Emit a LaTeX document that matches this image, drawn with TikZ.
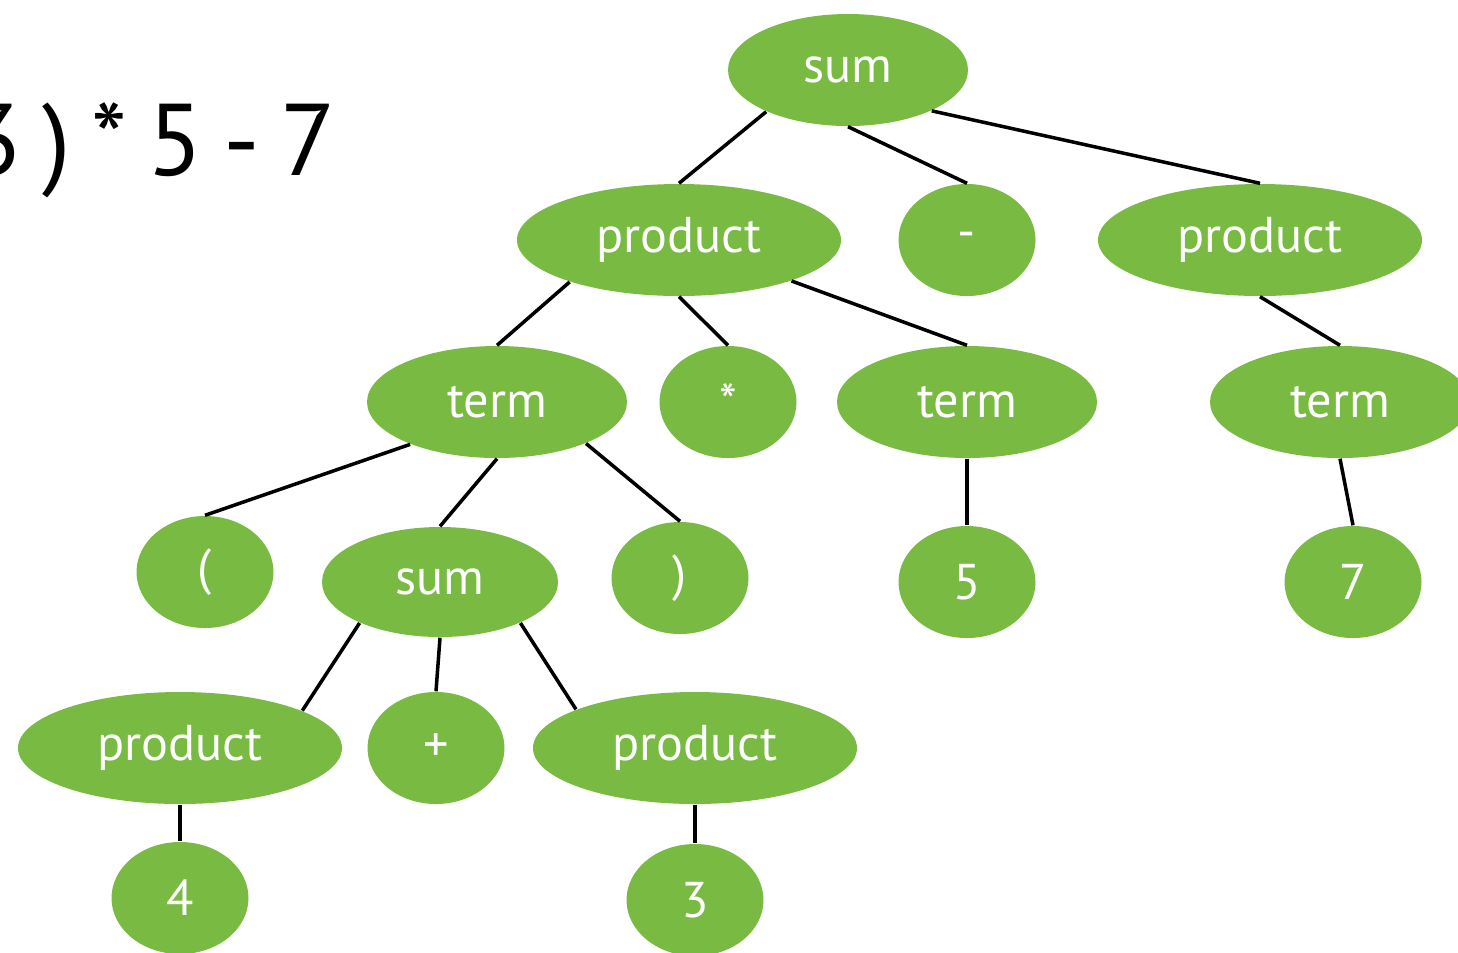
\documentclass[tikz,border=0pt]{standalone}
\usepackage{fontspec}
\setmainfont{PT Sans}
\newfontfamily\exprfont[WordSpace=0.75]{PT Sans}
\usetikzlibrary{shapes.geometric}

\definecolor{leafgreen}{RGB}{120,186,66}

\tikzset{
    tnode/.style={ellipse, fill=leafgreen, text=white, inner sep=0pt,
        minimum height=1.12cm, font=\fontsize{14.3}{15}\selectfont},
    wide/.style={tnode, minimum width=3.24cm},
    mid/.style={tnode, minimum width=2.6cm},
    tok/.style={tnode, minimum width=1.37cm},
    edge/.style={line width=1pt, black}
}

\begin{document}
\begin{tikzpicture}
    \useasboundingbox (0,0) rectangle (14.58,-9.52);
    \clip (0,0) rectangle (14.58,-9.52);
    % ausdruck oben links
    \node[anchor=base east, inner sep=0pt, font=\exprfont\fontsize{29}{31}\selectfont] (expr) at (3.37,-1.75) {3 ) * 5 - 7};
    % ebene 0
    \node[mid, minimum width=2.4cm] (sumA) at (8.48,-0.70) {sum};
    % ebene 1
    \node[wide] (prodA) at (6.79,-2.40) {product};
    \node[tok] (minus) at (9.67,-2.40) {-};
    \node[wide] (prodB) at (12.60,-2.40) {product};
    % ebene 2
    \node[mid] (termA) at (4.97,-4.02) {term};
    \node[tok] (star) at (7.28,-4.02) {*};
    \node[mid] (termB) at (9.67,-4.02) {term};
    \node[mid] (termC) at (13.40,-4.02) {term};
    % ebene 3
    \node[tok] (lpar) at (2.05,-5.72) {(};
    \node[mid, minimum width=2.36cm, minimum height=1.1cm] (sumB) at (4.40,-5.82) {sum};
    \node[tok] (rpar) at (6.80,-5.78) {)};
    \node[tok] (five) at (9.67,-5.82) {5};
    \node[tok] (seven) at (13.53,-5.82) {7};
    % ebene 4
    \node[wide] (prodC) at (1.80,-7.48) {product};
    \node[tok] (plus) at (4.36,-7.48) {+};
    \node[wide] (prodD) at (6.95,-7.48) {product};
    % ebene 5
    \node[tok] (four) at (1.80,-8.98) {4};
    \node[tok] (three) at (6.95,-9.00) {3};
    % kanten
    \foreach \a/\b in {sumA.-153/prodA.north, sumA.south/minus.north, sumA.-26/prodB.north,
                       prodA.-159/termA.north, prodA.south/star.north, prodA.-20/termB.north,
                       prodB.south/termC.north,
                       termA.-154/lpar.north, termA.south/sumB.north, termA.-25/rpar.north,
                       termB.south/five.north, termC.south/seven.north,
                       sumB.-153/prodC.17, sumB.south/plus.north, sumB.-27/prodD.162,
                       prodC.south/four.north, prodD.south/three.north}
        \draw[edge] (\a) -- (\b);
\end{tikzpicture}
\end{document}
